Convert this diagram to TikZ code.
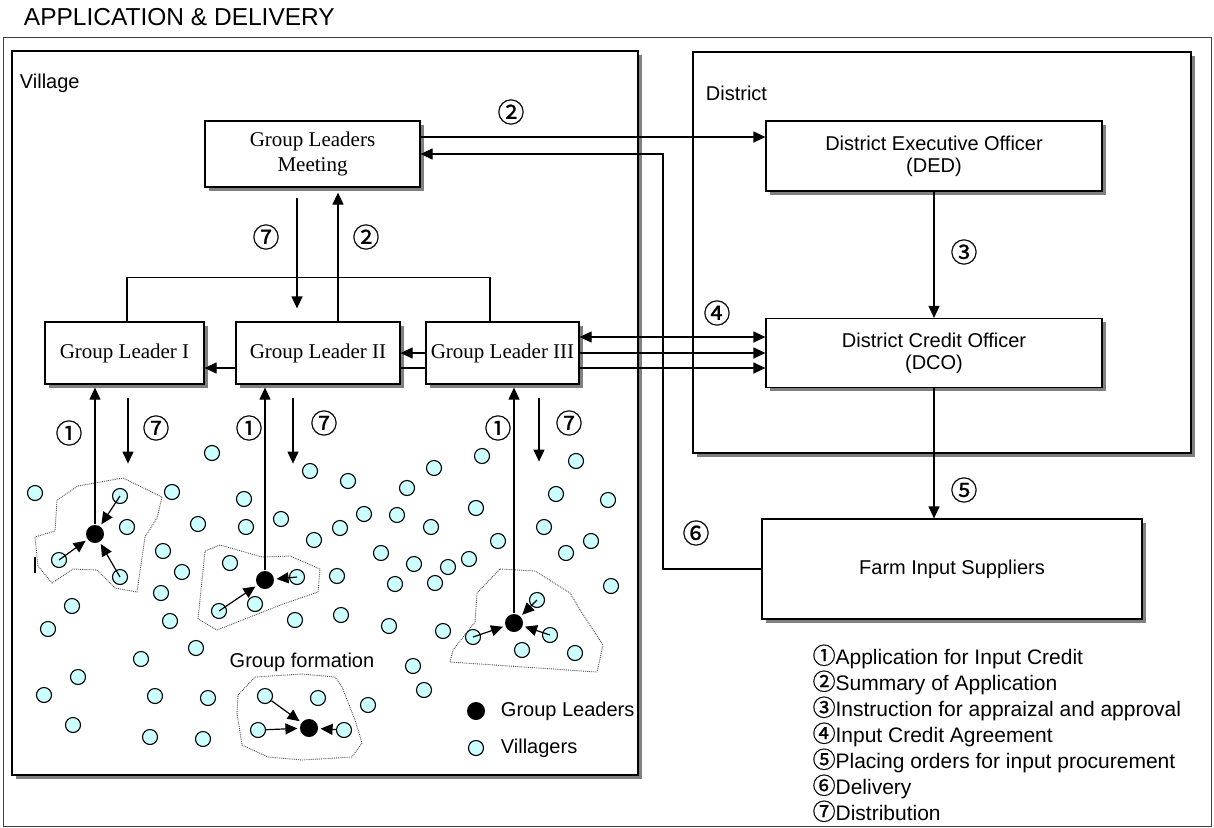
\documentclass[tikz,border=0pt]{standalone}
\usepackage{fontspec}
\setmainfont{Liberation Serif}
\setsansfont{Liberation Sans}
\newfontfamily\cjk[FakeBold=0.7]{Noto Sans CJK JP}
\usepackage{tikz}
\usetikzlibrary{positioning,shapes,arrows.meta,calc}
\definecolor{villcol}{HTML}{CCFFFF}
\tikzset{%
	shade/.style    = {preaction={draw=none, fill=black!50, transform canvas={xshift=#1, yshift=-#1}}},
	block/.style    = {draw, rectangle, fill=white, line width=1.2pt, align=center, inner sep=2pt, shade=3.5pt},
	glbox/.style    = {block, font=\rmfamily\fontsize{21}{25}\selectfont, minimum height=62pt},
	offbox/.style   = {block, font=\sffamily\fontsize{20}{22}\selectfont},
	region/.style   = {draw, rectangle, fill=white, line width=1.3pt, inner sep=0, shade=4pt},
	villager/.style = {circle, draw, fill=villcol, line width=1.1pt, minimum size=15pt, inner sep=0},
	leader/.style   = {circle, fill=black, minimum size=18pt, inner sep=0},
	numlab/.style   = {font=\cjk\fontsize{27}{27}\selectfont, inner sep=0},
	outline/.style  = {densely dotted, line width=0.9pt, black!70}
}
\begin{document}
\begin{tikzpicture}[x=1pt, y=-1pt, line width=1.2pt,
          >={Triangle[length=12pt, width=11pt]},
          font=\sffamily\fontsize{20}{22}\selectfont]
        \useasboundingbox (0,0) rectangle (1214,827);
        \draw[line width=1pt, black!75] (3,37) rectangle (1211,826);
        \node[anchor=west, font=\sffamily\fontsize{24.5}{26}\selectfont] (title) at (20,17) {APPLICATION \& DELIVERY};

        % frames
        \node[region, minimum width=626pt, minimum height=724pt] (village) at (325,413) {};
        \node[region, minimum width=498pt, minimum height=401pt] (district) at (942,252.5) {};
        \node[anchor=west] (villagelab) at (16,83) {Village};
        \node[anchor=west] (districtlab) at (702,93) {District};

        % boxes
        \node[glbox, minimum width=215pt, minimum height=66pt] (glm) at (312.5,154) {Group Leaders\\Meeting};
        \node[glbox, minimum width=159pt] (gl1) at (124.5,353) {Group Leader I};
        \node[glbox, minimum width=164pt] (gl2) at (318,353) {Group Leader II};
        \node[glbox, minimum width=153pt] (gl3) at (502.5,353) {Group Leader III};
        \node[offbox, minimum width=336pt, minimum height=70pt] (ded) at (934,156) {District Executive Officer\\(DED)};
        \node[offbox, minimum width=336pt, minimum height=69pt] (dco) at (934,353) {District Credit Officer\\(DCO)};
        \node[offbox, minimum width=380pt, minimum height=100pt] (fis) at (952,569) {Farm Input Suppliers};
        \coordinate (ret) at (663,154);

        \draw[->] ([yshift=17pt]glm.east) -- ([yshift=17pt]glm.east -| ded.west);
        \draw[->] (fis.west) -| (ret) -- (glm.east);
        \draw[->, shorten <=10pt, shorten >=13pt] ([xshift=-15.5pt]glm.south) -- ([xshift=-15.5pt]glm.south |- gl2.north);
        \draw[->, shorten >=5pt] ([xshift=25.5pt]glm.south |- gl2.north) -- ([xshift=25.5pt]glm.south);
        \draw ([xshift=2.5pt]gl1.north) -- ++(0,-44) -| ([xshift=-12.5pt]gl3.north);
        \draw[->] (gl3.west) -- (gl2.east);
        \draw ([yshift=-15pt]gl3.west) -- ([yshift=-15pt]gl2.east);
        \draw[->] ([yshift=-15pt]gl2.west) -- ([yshift=-15pt]gl1.east);
        \draw[<->] ([yshift=16pt]gl3.east) -- ([yshift=16pt]gl3.east -| dco.west);
        \draw[->] (gl3.east) -- (gl3.east -| dco.west);
        \draw[->] ([yshift=-15pt]gl3.east) -- ([yshift=-15pt]gl3.east -| dco.west);
        \draw[->] (ded) -- (dco);
        \draw[->] (dco) -- (dco.south |- fis.north);

        % villagers
        \foreach \vx/\vy [count=\i] in {35/493, 172/492, 127/527, 163/551, 182/572, 161/593, 72/606, 48/629,
            170/621, 212/453, 310/471, 348/481, 244/499, 198/524, 246/527, 281/519, 314/540, 340/528,
            364/514, 397/515, 407/488, 434/468, 431/527, 482/456, 476/508, 498/541, 469/559, 448/567,
            435/583, 414/564, 395/584, 381/553, 576/461, 556/494, 608/500, 544/527, 591/541, 566/553,
            611/586, 230/563, 337/576, 255/604, 295/620, 341/615, 389/626, 443/631, 196/648, 141/659,
            78/677, 44/695, 155/696, 208/698, 73/725, 150/737, 203/739, 368/705, 413/666, 424/690,
            522/650, 575/653, 318/698}
            \node[villager] (v\i) at (\vx,\vy) {};
        \node[villager] (a1) at (120,496) {};
        \node[villager] (a2) at (59,560) {};
        \node[villager] (a3) at (120,577) {};
        \node[villager] (b1) at (219,611) {};
        \node[villager] (b2) at (297,577) {};
        \node[villager] (c1) at (537,600) {};
        \node[villager] (c2) at (473,637) {};
        \node[villager] (c3) at (550,635) {};
        \node[villager] (d1) at (265,696) {};
        \node[villager] (d2) at (258,730) {};
        \node[villager] (d3) at (344,730) {};
        \node[leader] (l1) at (95,534) {};
        \node[leader] (l2) at (265,580) {};
        \node[leader] (l3) at (514,623) {};
        \node[leader] (l4) at (309,728) {};

        \draw[outline] (78,486) -- (123,478) -- (162,497) -- (157,518) -- (145,537) -- (137,592) -- (115,588)
            -- (97,570) -- (73,569) -- (52,583) -- (38,566) -- (35,537) -- (55,531) -- (57,500) -- cycle;
        \draw[outline] (205,551) -- (220,545) -- (262,557) -- (290,556) -- (320,569) -- (318,592)
            -- (283,604) -- (217,630) -- (198,619) -- cycle;
        \draw[outline] (500,569) -- (535,571) -- (570,593) -- (582,613) -- (603,645) -- (597,672)
            -- (450,662) -- (453,650) -- (475,622) -- (477,593) -- cycle;
        \draw[outline] (238,695) -- (255,677) -- (302,674) -- (335,677) -- (342,687) -- (355,720)
            -- (362,743) -- (352,757) -- (302,760) -- (268,757) -- (242,745) -- (237,713) -- cycle;
        \draw[line width=1.5pt] (35,557) -- (35,573);

        \draw[->, shorten >=2pt] (a1.center) -- (l1);
        \draw[->, shorten >=2pt] (a2.center) -- (l1);
        \draw[->, shorten >=2pt] (a3.center) -- (l1);
        \draw[->, shorten >=2pt] (b1.center) -- (l2);
        \draw[->, shorten >=2pt] (b2.center) -- (l2);
        \draw[->, shorten >=2pt] (c1.center) -- (l3);
        \draw[->, shorten >=2pt] (c2.center) -- (l3);
        \draw[->, shorten >=2pt] (c3.center) -- (l3);
        \draw[->, shorten >=2pt] (d1) -- (l4);
        \draw[->, shorten >=2pt] (d2) -- (l4);
        \draw[->, shorten >=2pt] (d3) -- (l4);

        \draw[->, shorten >=3pt] (l1) -- (l1 |- gl1.south);
        \draw[->, shorten >=3pt] (l2) -- (l2 |- gl2.south);
        \draw[->, shorten >=3pt] (l3) -- (l3 |- gl3.south);
        \draw[->, shorten <=13pt] ([xshift=3.5pt]gl1.south) -- ++(0,79);
        \draw[->, shorten <=13pt] ([xshift=-25pt]gl2.south) -- ++(0,79);
        \draw[->, shorten <=13pt] ([xshift=36.5pt]gl3.south) -- ++(0,77);

        % numbers
        \node[numlab] (n2a) at (511,112) {②};
        \node[numlab] (n7a) at (266,237) {⑦};
        \node[numlab] (n2b) at (366,237) {②};
        \node[numlab] (n3) at (964,252) {③};
        \node[numlab] (n4) at (717,313) {④};
        \node[numlab] (n5) at (964,490) {⑤};
        \node[numlab] (n6) at (696,533) {⑥};
        \node[numlab] (n1a) at (69,433) {①};
        \node[numlab] (n7b) at (156,428) {⑦};
        \node[numlab] (n1b) at (249,428) {①};
        \node[numlab] (n7c) at (324,423) {⑦};
        \node[numlab] (n1c) at (498,428) {①};
        \node[numlab] (n7d) at (569,423) {⑦};

        \node (formlab) at (302,662) {Group formation};
        \node[leader] (keyl) at (476,711) {};
        \node[anchor=west] (keyltext) at (497,711) {Group Leaders};
        \node[villager] (keyv) at (476,748) {};
        \node[anchor=west] (keyvtext) at (497,748) {Villagers};

        % legend
        \foreach \c/\t [count=\i] in {①/Application for Input Credit, ②/Summary of Application,
            ③/Instruction for appraizal and approval, ④/Input Credit Agreement,
            ⑤/Placing orders for input procurement, ⑥/Delivery, ⑦/Distribution}
            \node[anchor=base west, inner sep=0, font=\sffamily\fontsize{21}{26}\selectfont] (key\i)
                at (812,664+26*\i-26) {{\cjk\fontsize{23}{26}\selectfont\c}\t};
\end{tikzpicture}
\end{document}
